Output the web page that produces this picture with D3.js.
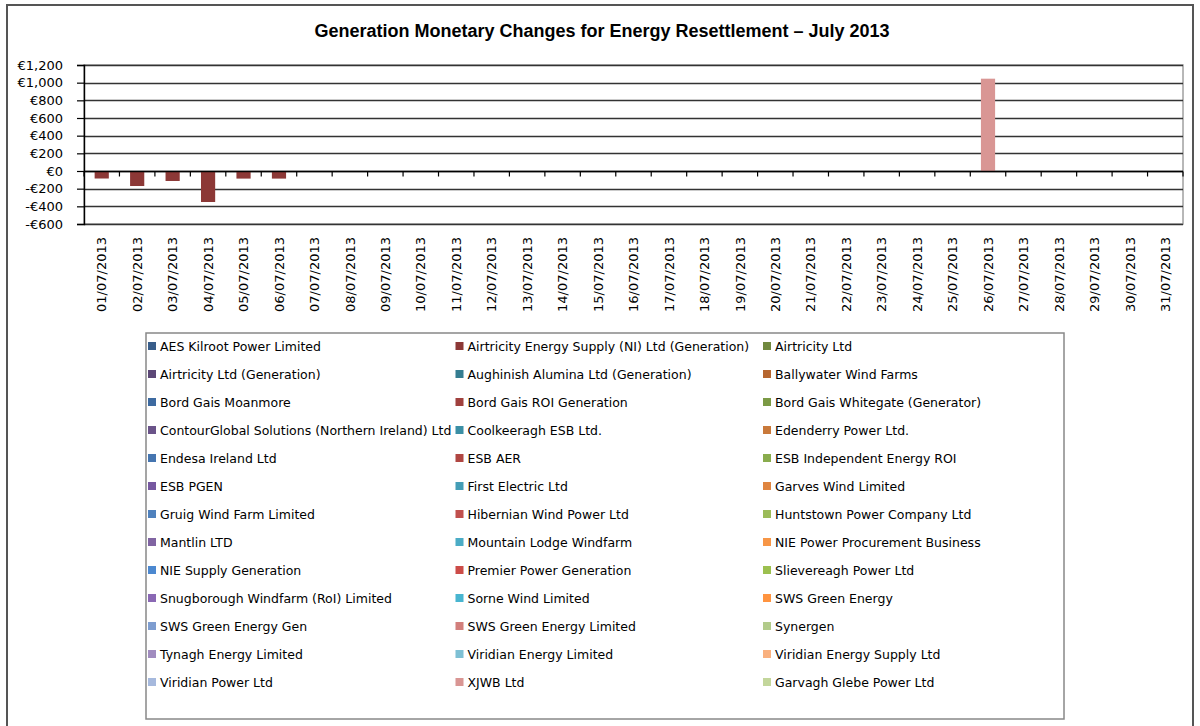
<!DOCTYPE html>
<html>
<head>
<meta charset="utf-8">
<script src="https://cdn.jsdelivr.net/npm/d3@7"></script>
<style>
  body { margin: 0; background: #fff; }
  svg { display: block; }
</style>
</head>
<body>
<div id="chart"></div>
<script>
// chart data
const days = [
  "01/07/2013", "02/07/2013", "03/07/2013", "04/07/2013", "05/07/2013", "06/07/2013",
  "07/07/2013", "08/07/2013", "09/07/2013", "10/07/2013", "11/07/2013", "12/07/2013",
  "13/07/2013", "14/07/2013", "15/07/2013", "16/07/2013", "17/07/2013", "18/07/2013",
  "19/07/2013", "20/07/2013", "21/07/2013", "22/07/2013", "23/07/2013", "24/07/2013",
  "25/07/2013", "26/07/2013", "27/07/2013", "28/07/2013", "29/07/2013", "30/07/2013",
  "31/07/2013"
];

const seriesNames = [
  "AES Kilroot Power Limited", "Airtricity Energy Supply (NI) Ltd (Generation)", "Airtricity Ltd",
  "Airtricity Ltd (Generation)", "Aughinish Alumina Ltd (Generation)", "Ballywater Wind Farms",
  "Bord Gais Moanmore", "Bord Gais ROI Generation", "Bord Gais Whitegate (Generator)",
  "ContourGlobal Solutions (Northern Ireland) Ltd", "Coolkeeragh ESB Ltd.", "Edenderry Power Ltd.",
  "Endesa Ireland Ltd", "ESB AER", "ESB Independent Energy ROI",
  "ESB PGEN", "First Electric Ltd", "Garves Wind Limited",
  "Gruig Wind Farm Limited", "Hibernian Wind Power Ltd", "Huntstown Power Company Ltd",
  "Mantlin LTD", "Mountain Lodge Windfarm", "NIE Power Procurement Business",
  "NIE Supply Generation", "Premier Power Generation", "Slievereagh Power Ltd",
  "Snugborough Windfarm (RoI) Limited", "Sorne Wind Limited", "SWS Green Energy",
  "SWS Green Energy Gen", "SWS Green Energy Limited", "Synergen",
  "Tynagh Energy Limited", "Viridian Energy Limited", "Viridian Energy Supply Ltd",
  "Viridian Power Ltd", "XJWB Ltd", "Garvagh Glebe Power Ltd"
];

// only two series have non-zero values this month
const airtricitySupplyValues = [
  -85, -170, -113, -351, -86, -86, 0, 0, 0, 0, 0, 0, 0, 0, 0, 0,
  0, 0, 0, 0, 0, 0, 0, 0, 0, 0, 0, 0, 0, 0, 0
];
const xjwbValues = [
  0, 0, 0, 0, 0, 0, 0, 0, 0, 0, 0, 0, 0, 0, 0, 0,
  0, 0, 0, 0, 0, 0, 0, 0, 0, 1045, 0, 0, 0, 0, 0
];

const yTicks = [-600, -400, -200, 0, 200, 400, 600, 800, 1000, 1200];

// excel 2007 style palette, one per series
const palette = [
  "#385d8a", "#8c3836", "#71893f", "#5c4776", "#357d91", "#b6662f",
  "#3d6aa0", "#a0413e", "#7b9a45", "#6a5389", "#3b8fa5", "#c9793a",
  "#4575b0", "#b04642", "#89ac4d", "#7658a0", "#449db6", "#df8540",
  "#4f81bd", "#c0504d", "#9bbb59", "#8064a2", "#4bacc6", "#f79646",
  "#4c88d0", "#cc4c48", "#9cc04f", "#8a68b4", "#48b5d0", "#ff9440",
  "#7e9dd0", "#d27f7c", "#b2cb8a", "#a18cbf", "#7ec0d4", "#f9b07e",
  "#a6b9dd", "#d99694", "#c3d69b"
];

const seriesValues = {};
seriesValues["Airtricity Energy Supply (NI) Ltd (Generation)"] = airtricitySupplyValues;
seriesValues["XJWB Ltd"] = xjwbValues;

// build a table the stack can use
const table = days.map((d, i) => {
  const row = { day: d };
  seriesNames.forEach((s) => {
    row[s] = seriesValues[s] ? seriesValues[s][i] : 0;
  });
  return row;
});

const width = 1200, height = 726;
const plot = { left: 84, right: 1183, top: 65, bottom: 224 };

const svg = d3.select("#chart").append("svg")
  .attr("width", width)
  .attr("height", height);

// outer chart frame
svg.append("rect")
  .attr("x", 7).attr("y", 5)
  .attr("width", 1186).attr("height", 740)
  .attr("fill", "#fff")
  .attr("stroke", "#555")
  .attr("stroke-width", 2);

svg.append("text")
  .attr("x", 602).attr("y", 37)
  .attr("text-anchor", "middle")
  .style("font-family", "Liberation Sans, Arial, sans-serif")
  .style("font-weight", "bold")
  .style("font-size", "18px")
  .attr("fill", "#000")
  .text("Generation Monetary Changes for Energy Resettlement \u2013 July 2013");

const x = d3.scaleBand()
  .domain(days)
  .range([plot.left, plot.right])
  .paddingInner(0.6)
  .paddingOuter(0.3);

const y = d3.scaleLinear()
  .domain([-600, 1200])
  .range([plot.bottom, plot.top]);

// plot area border
svg.append("rect")
  .attr("x", plot.left).attr("y", plot.top)
  .attr("width", plot.right - plot.left)
  .attr("height", plot.bottom - plot.top)
  .attr("fill", "none")
  .attr("stroke", "#a0a0a0")
  .attr("stroke-width", 1.5);

// gridlines
svg.append("g")
  .selectAll("line")
  .data(yTicks)
  .enter()
  .append("line")
  .attr("x1", plot.left).attr("x2", plot.right)
  .attr("y1", (d) => Math.round(y(d)) + 0.5)
  .attr("y2", (d) => Math.round(y(d)) + 0.5)
  .attr("stroke", "#333")
  .attr("stroke-width", 1.5);

// stacked columns
const stack = d3.stack()
  .keys(seriesNames)
  .offset(d3.stackOffsetDiverging);
const layers = stack(table);

svg.append("g")
  .selectAll("g")
  .data(layers)
  .enter()
  .append("g")
  .attr("fill", (d, i) => palette[i])
  .selectAll("rect")
  .data((d) => d.filter((p) => p[1] - p[0] !== 0))
  .enter()
  .append("rect")
  .attr("x", (d) => x(d.data.day))
  .attr("width", x.bandwidth())
  .attr("y", (d) => y(d[1]))
  .attr("height", (d) => y(d[0]) - y(d[1]));

// y axis
const fmt = d3.format(",");
const yAxis = d3.axisLeft(y)
  .tickValues(yTicks)
  .tickSize(7)
  .tickPadding(14)
  .tickFormat((v) => (v < 0 ? "-\u20ac" + fmt(-v) : "\u20ac" + fmt(v)));

const yg = svg.append("g")
  .attr("transform", "translate(" + plot.left + ",0)")
  .call(yAxis);
yg.select(".domain").attr("stroke", "#000").attr("stroke-width", 1.4);
yg.selectAll(".tick line").attr("stroke", "#000").attr("stroke-width", 1.2);
yg.selectAll(".tick text")
  .style("font-family", "DejaVu Sans, sans-serif")
  .style("font-size", "13px")
  .attr("fill", "#000");

// x axis on the zero line
const zeroY = Math.round(y(0)) + 0.5;
svg.append("line")
  .attr("x1", plot.left).attr("x2", plot.right)
  .attr("y1", zeroY).attr("y2", zeroY)
  .attr("stroke", "#000")
  .attr("stroke-width", 1.4);

const boundaries = d3.range(days.length + 1).map((i) => plot.left + i * x.step());
svg.append("g")
  .selectAll("line")
  .data(boundaries)
  .enter()
  .append("line")
  .attr("x1", (d) => d).attr("x2", (d) => d)
  .attr("y1", zeroY).attr("y2", zeroY + 5)
  .attr("stroke", "#000")
  .attr("stroke-width", 1.2);

svg.append("g")
  .selectAll("text")
  .data(days)
  .enter()
  .append("text")
  .attr("transform", (d) => "translate(" + (x(d) + x.bandwidth() / 2) + ",237) rotate(-90)")
  .attr("text-anchor", "end")
  .attr("dy", "0.36em")
  .style("font-family", "DejaVu Sans, sans-serif")
  .style("font-size", "13px")
  .attr("fill", "#000")
  .text((d) => d);

// legend
const legend = { x: 146, y: 333, w: 918, h: 386, colW: 307.5, rowH: 28, firstRow: 346 };
svg.append("rect")
  .attr("x", legend.x).attr("y", legend.y)
  .attr("width", legend.w).attr("height", legend.h)
  .attr("fill", "#fff")
  .attr("stroke", "#888")
  .attr("stroke-width", 1.5);

const items = svg.append("g")
  .selectAll("g")
  .data(seriesNames)
  .enter()
  .append("g")
  .attr("transform", (d, i) =>
    "translate(" + (legend.x + 2 + (i % 3) * legend.colW) + "," + (legend.firstRow + Math.floor(i / 3) * legend.rowH) + ")");

items.append("rect")
  .attr("x", 0).attr("y", -4)
  .attr("width", 8).attr("height", 8)
  .attr("fill", (d, i) => palette[i]);

items.append("text")
  .attr("x", 12)
  .attr("dy", "0.36em")
  .style("font-family", "DejaVu Sans, sans-serif")
  .style("font-size", "12.5px")
  .attr("fill", "#000")
  .text((d) => d);
</script>
</body>
</html>
